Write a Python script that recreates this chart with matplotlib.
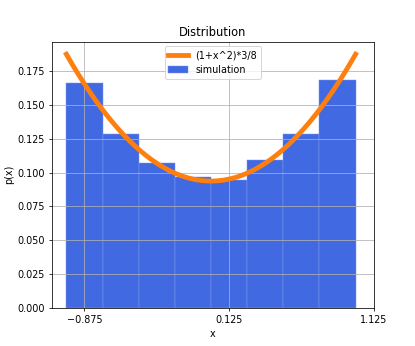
import numpy as np
import matplotlib.pyplot as plt

# histogram of the simulation (probability per bin, bin width 0.25)
bin_edges = [-1.0, -0.75, -0.5, -0.25, 0.0, 0.25, 0.5, 0.75, 1.0]
bin_probs = [0.1664, 0.1288, 0.1074, 0.0971, 0.0944, 0.1091, 0.1288, 0.1681]
bin_width = 0.25
x_ticks = [-0.875, 0.125, 1.125]


def main():
    fig, ax = plt.subplots(figsize=(6, 5), dpi=69.2)

    x = np.linspace(-1, 1, 200)
    ax.plot(x, (1 + x**2) * 3 / 8 * bin_width, color='tab:orange', lw=5,
            label='(1+x^2)*3/8', zorder=3)

    centers = (np.array(bin_edges[:-1]) + np.array(bin_edges[1:])) / 2
    ax.hist(centers, bins=bin_edges, weights=bin_probs, color='royalblue',
            edgecolor='#7d97ec', linewidth=0.5, label='simulation')

    ax.set_xticks(x_ticks)
    ax.grid(True)
    ax.set(xlabel='x', ylabel='p(x)', title='Distribution')
    ax.legend(loc='upper center')

    fig.savefig('out.png', dpi=69.2)


main()
